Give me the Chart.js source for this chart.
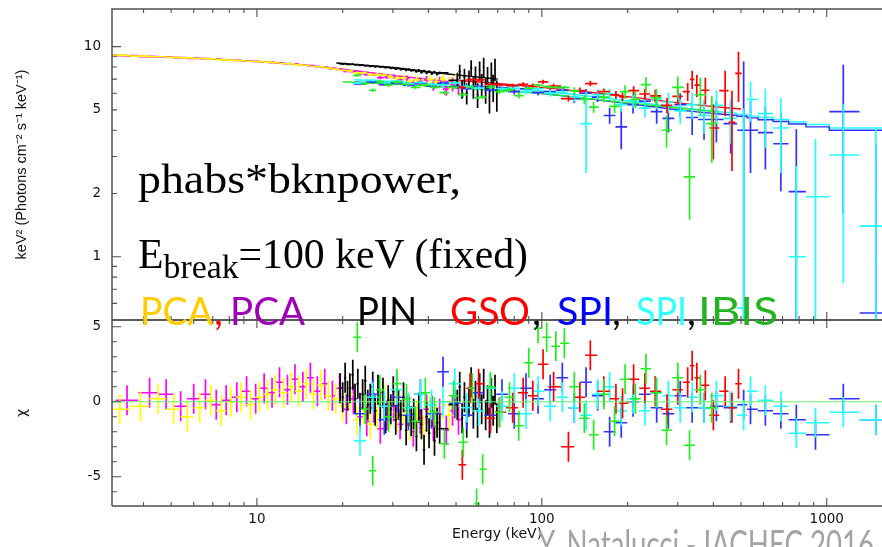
<!DOCTYPE html>
<html><head><meta charset="utf-8">
<script src="https://cdn.jsdelivr.net/npm/chart.js@4.4.0/dist/chart.umd.min.js"></script>
<style>
html,body{margin:0;padding:0;background:#fff;}
#wrap{position:relative;width:882px;height:547px;overflow:hidden;background:#fff;}
canvas{position:absolute;left:0;top:0;}
svg{position:absolute;left:0;top:0;}
</style></head><body>
<div id="wrap">
<canvas id="bot" width="882" height="547"></canvas>
<canvas id="top" width="882" height="547"></canvas>
<svg width="882" height="547">
  <text x="138" y="193" font-family="Liberation Serif" font-size="43" fill="#000" textLength="323" lengthAdjust="spacingAndGlyphs">phabs*bknpower,</text>
  <text x="138" y="268" font-family="Liberation Serif" font-size="42" fill="#000" textLength="390" lengthAdjust="spacingAndGlyphs">E<tspan font-size="34" dy="10">break</tspan><tspan dy="-10">=100 keV (fixed)</tspan></text>
  <g font-family="Lato" font-size="39">
    <text x="140" y="325" fill="#FFCC00" textLength="73" lengthAdjust="spacingAndGlyphs">PCA</text>
    <text x="214" y="325" fill="#FF0000">,</text>
    <text x="230" y="325" fill="#A000B8" textLength="75" lengthAdjust="spacingAndGlyphs">PCA</text>
    <text x="357" y="325" fill="#000" textLength="60" lengthAdjust="spacingAndGlyphs">PIN</text>
    <text x="450" y="325" fill="#FF0000" textLength="80" lengthAdjust="spacingAndGlyphs">GSO</text>
    <text x="532" y="325" fill="#000">,</text>
    <text x="557" y="325" fill="#0000FF" textLength="56" lengthAdjust="spacingAndGlyphs">SPI</text>
    <text x="612" y="325" fill="#000">,</text>
    <text x="636" y="325" fill="#33FFFF" textLength="51" lengthAdjust="spacingAndGlyphs">SPI</text>
    <text x="687" y="325" fill="#000">,</text>
    <text x="698" y="325" fill="#22B522" textLength="80" lengthAdjust="spacingAndGlyphs">IBIS</text>
  </g>
  <text x="538" y="558" font-family="Lato" font-size="39" fill="#A3A3A3" textLength="336" lengthAdjust="spacingAndGlyphs">Y. Natalucci - IACHEC 2016</text>
</svg>
</div>
<script>
// ---------- axes ----------
const xMin = 3.1, xMax = 1563;
const xMajorTicks = [10, 100, 1000];
const xMinorTicks = [4,5,6,7,8,9,20,30,40,50,60,70,80,90,200,300,400,500,600,700,800,900];
const topYMin = 0.5, topYMax = 15.1;
const topYLabels = [1, 2, 5, 10];
const topYMajor = [1, 10];
const topYMinor = [0.6,0.7,0.8,0.9,2,3,4,5,6,7,8,9];
const botYMin = -6.95, botYMax = 5.45;
const botYLabels = [-5, 0, 5];
const botYMajor = [-5, 0, 5];
const botYMinor = [-6,-4,-3,-2,-1,1,2,3,4];

// ---------- PCA (yellow) ----------
const pcaAE = [3.3,3.9,4.5,5.1,5.7,6.3,6.9,7.5,8.1,8.8,9.5,10.2,10.9,11.6,12.4,13.2,14.0,14.9,15.8,16.8,17.8,18.9,20.0,21.2,22.4,23.7,25.0,26.4,27.9,29.4,31.0,32.7,34.5,36.4,38.4,40.5,42.7,45.0,47.4,50.0];
const pcaAF = [9.08,9.01,8.95,8.89,8.83,8.78,8.74,8.68,8.63,8.58,8.52,8.48,8.43,8.39,8.31,8.27,8.18,8.14,8.04,8.0,7.9,7.82,7.71,7.67,7.5,7.5,7.35,7.36,7.32,7.2,7.06,7.1,6.84,6.95,6.72,6.98,6.8,6.98,6.7,6.85];
const pcaAS = [0.02,0.02,0.02,0.02,0.02,0.02,0.02,0.02,0.03,0.03,0.03,0.03,0.03,0.03,0.04,0.04,0.04,0.04,0.05,0.05,0.06,0.07,0.08,0.09,0.1,0.11,0.12,0.14,0.16,0.18,0.2,0.22,0.25,0.28,0.31,0.35,0.4,0.45,0.5,0.55];
const pcaAR = [-0.5,-0.3,0.2,-0.5,-1.0,-0.4,0.1,-0.6,0.0,0.3,-0.2,0.3,0.5,0.8,0.6,1.0,0.7,1.2,0.5,1.1,0.4,0.2,-0.3,0.5,-1.2,-0.5,-1.5,-0.8,0.3,-0.7,-1.1,-0.4,-1.6,-0.9,-1.9,-0.6,-1.3,-0.2,-0.9,-0.3];
// ---------- PCA (magenta) ----------
const pcaBE = [3.5,4.2,4.8,5.4,6.0,6.6,7.2,7.8,8.5,9.2,9.9,10.6,11.3,12.0,12.8,13.6,14.5,15.4,16.3,17.3,18.4,19.5,20.6,21.8,23.0,24.3,25.7,27.1,28.6,30.2,31.8,33.6,35.4,37.4,39.4,41.6,43.8,46.2,48.6,51.0];
const pcaBF = [9.05,8.97,8.92,8.86,8.8,8.76,8.71,8.66,8.6,8.56,8.5,8.46,8.41,8.37,8.31,8.26,8.18,8.12,8.03,7.96,7.86,7.78,7.63,7.6,7.44,7.36,7.36,7.12,7.18,7.2,6.94,7.06,6.7,6.85,6.94,6.52,6.78,6.28,6.62,6.42];
const pcaBS = [0.02,0.02,0.02,0.02,0.02,0.02,0.02,0.02,0.03,0.03,0.03,0.03,0.03,0.03,0.04,0.04,0.04,0.04,0.05,0.05,0.06,0.07,0.08,0.09,0.1,0.11,0.12,0.14,0.16,0.18,0.2,0.22,0.25,0.28,0.31,0.35,0.4,0.45,0.5,0.55];
const pcaBR = [0.1,0.6,0.5,-0.3,0.2,0.5,-0.2,0.1,0.3,0.7,0.2,0.9,0.6,1.3,0.8,1.5,1.0,1.6,0.7,1.2,0.4,0.9,-0.5,0.2,-1.0,-1.3,-0.4,-1.8,-0.9,-0.3,-1.5,-0.6,-2.0,-1.1,-0.5,-1.6,-0.8,-1.9,-0.6,-1.2];
const pcaModelE = [3,4,5,7,10,15,20,30,40,52];
const pcaModelF = [9.12,9.0,8.9,8.74,8.5,8.15,7.8,7.3,6.98,6.72];

// ---------- PIN (black) ----------
const pinE = [19.6,20.0,20.4,20.8,21.2,21.7,22.1,22.6,23.0,23.5,24.0,24.5,25.0,25.5,26.0,26.6,27.1,27.7,28.3,28.9,29.5,30.1,30.7,31.4,32.0,32.7,33.4,34.1,34.8,35.5,36.3,37.0,37.8,38.6,39.4,40.2,41.1,42.0,42.9,43.8,
              50.5,51.5,52.5,53.5,54.5,55.5,56.5,57.5,58.5,59.5,60.5,61.5,62.5,63.5,64.5,65.5,66.5,67.5,68.5,69.5];
const pinF = [8.3,8.26,8.3,8.24,8.22,8.26,8.18,8.2,8.14,8.17,8.1,8.12,8.06,8.1,8.02,8.05,7.98,8.02,7.94,7.97,7.9,7.93,7.84,7.88,7.8,7.84,7.74,7.78,7.7,7.72,7.62,7.7,7.55,7.64,7.5,7.6,7.45,7.55,7.4,7.5,
              6.9,7.6,6.3,7.2,6.0,7.0,7.9,6.4,7.3,5.9,7.7,6.6,8.0,6.2,7.1,5.7,7.5,6.4,7.8,5.9];
const pinS = [0.07,0.07,0.07,0.07,0.07,0.07,0.07,0.07,0.07,0.07,0.08,0.08,0.08,0.08,0.08,0.08,0.08,0.08,0.08,0.08,0.1,0.1,0.1,0.1,0.1,0.1,0.1,0.1,0.1,0.1,0.12,0.12,0.12,0.12,0.12,0.12,0.12,0.12,0.12,0.12,
              0.6,0.6,0.65,0.65,0.7,0.7,0.7,0.75,0.75,0.8,0.8,0.8,0.85,0.85,0.9,0.9,0.9,0.95,0.95,1.0];
const pinR = [0.9,0.3,1.6,0.4,0.9,1.8,0.2,1.2,-0.4,0.5,1.4,-0.2,0.2,1.0,-0.6,0.8,-0.3,0.6,-1.1,0.1,-0.5,0.7,-1.2,-0.2,-0.9,0.3,-1.9,-0.6,-1.3,-0.8,-2.3,-0.4,-1.5,-3.2,-1.0,-2.1,-0.6,-2.6,-1.4,-1.8,
              -0.2,1.0,-1.1,0.3,-1.4,0.0,1.3,-0.8,0.4,-1.4,0.9,-0.5,1.2,-0.9,0.1,-1.4,0.6,-0.6,0.8,-1.1];
const pinModelE = [19,30,45,70];
const pinModelF = [8.35,7.95,7.45,7.0];

// ---------- GSO (red) ----------
const gsoE = [52.6,56,60,66,71,79,86,93,101,110,124,136,148,165,182,192,210,230,250,275,300,325,337,350,375,400,440,465,490];
const gsoF = [6.4,6.96,6.94,6.59,6.57,6.52,6.61,6.52,6.8,6.49,5.66,6.18,6.67,6.1,5.9,5.77,6.17,5.95,5.83,5.25,5.8,6.11,6.98,6.55,6.2,4.1,6.17,4.36,7.45];
const gsoS = [0.12,0.12,0.12,0.13,0.13,0.14,0.15,0.15,0.16,0.17,0.18,0.2,0.2,0.22,0.25,0.28,0.3,0.35,0.4,0.45,0.5,0.6,0.7,0.8,0.9,1.2,1.5,1.8,2.0];
const gsoR = [-4.2,0.9,1.2,-1.1,-0.7,-0.4,0.6,0.4,2.5,1.0,-3.0,0.3,3.1,0.7,0.2,-0.1,1.5,0.9,0.7,-0.5,0.8,1.3,2.4,1.6,1.1,-0.9,0.7,-0.4,1.2];
const gsoModelE = [50,70,100,150,200,300,400,500];
const gsoModelF = [6.92,6.68,6.4,6.05,5.78,5.4,5.18,5.05];

// ---------- SPI (blue) and SPI (cyan) ----------
const spiE = [23,25.5,28,31,34,37.5,41,45,49.5,54.5,60,66,72.5,80,88,97,107,118,130,143,157,173,190,209,230,253,278,306,337,371,410,460,511,540,609,690,782,913,1143,1487];
const spiAF = [6.65,6.8,6.6,6.72,6.55,6.68,6.48,6.7,6.45,6.3,6.45,6.22,6.35,6.1,6.3,6.05,6.1,6.2,5.65,6.0,5.75,4.7,4.15,5.3,5.5,4.9,4.55,5.3,4.6,4.5,4.5,4.3,4.0,4.0,3.9,3.45,2.04,-1.5,4.9,0.54];
const spiAS = [0.1,0.1,0.1,0.11,0.11,0.12,0.12,0.13,0.13,0.14,0.15,0.16,0.17,0.18,0.19,0.2,0.22,0.24,0.26,0.28,0.3,0.4,0.9,0.5,0.55,0.6,0.65,0.7,0.8,0.9,1.0,1.2,4.5,1.5,1.3,1.4,2.0,1.8,3.3,2.9];
const spiAR = [-0.8,0.5,-1.2,0.3,-0.9,0.5,-0.8,2.0,-0.1,-0.9,0.6,-0.9,0.5,-0.8,0.9,0.2,0.8,1.6,-0.4,1.3,0.4,-2.0,-1.4,0.0,0.5,-0.4,-0.8,0.4,-0.4,-0.4,-0.3,-0.4,-0.2,-0.5,-0.6,-0.8,-1.2,-2.2,0.2,-1.2];
const spiBF = [6.7,6.9,6.75,6.85,6.65,6.75,6.6,6.58,6.72,6.45,6.35,6.55,6.3,6.45,6.1,6.3,6.0,6.05,5.75,4.3,5.9,5.95,5.3,5.55,5.1,5.6,5.45,4.95,5.3,4.7,5.25,4.55,0.57,5.6,4.8,4.1,1.0,1.93,3.05,1.4];
const spiBS = [0.1,0.1,0.11,0.11,0.12,0.12,0.13,0.13,0.14,0.15,0.16,0.17,0.18,0.19,0.2,0.22,0.23,0.26,0.28,1.8,0.32,0.35,0.4,0.45,0.5,0.55,0.6,0.65,0.75,0.85,0.95,1.1,4.5,1.2,1.5,1.6,1.7,1.7,2.3,2.7];
const spiBR = [-2.6,0.3,-0.3,0.8,-0.4,0.5,-0.2,0.0,1.2,-0.4,-0.6,0.9,-0.3,0.9,-0.8,0.7,-0.3,0.3,-0.4,-0.9,0.5,1.0,-0.6,0.2,-0.6,0.6,0.4,-0.4,0.3,-0.4,0.4,-0.3,-0.9,0.7,0.1,-0.3,-2.1,-1.4,-0.7,-1.2];
const spiModelE = [22,30,40,50,60,80,100,130,170,220,280,350,420,485];
const spiAModelF = [6.78,6.65,6.5,6.4,6.3,6.15,5.98,5.75,5.5,5.27,5.06,4.89,4.78,4.7];
const spiBModelF = [6.95,6.82,6.68,6.57,6.47,6.32,6.15,5.92,5.68,5.42,5.2,5.02,4.9,4.82];
const spiStepE = [485,525,574,648,735,845,1021,1304,1698];
const spiAStepF = [4.72,4.66,4.58,4.49,4.4,4.28,4.15,4.0,4.0];
const spiBStepF = [4.8,4.76,4.68,4.6,4.5,4.38,4.26,4.1,4.1];

// ---------- IBIS (green) ----------
const ibisE = [22.5,24,25.5,27,29,31,33.5,36,39,42,45.5,49,53,57,59,62,66,71,77,83,90,97,104,112,120,130,141,152,165,180,196,213,232,252,274,300,330,360,395];
const ibisF = [7.3,6.69,6.2,6.82,6.55,6.78,6.62,6.4,6.55,6.4,6.04,6.4,5.9,6.4,5.7,5.75,6.4,6.1,6.22,5.85,6.35,6.55,6.45,6.4,6.4,6.15,5.6,5.15,5.75,5.2,6.1,5.6,6.6,5.7,4.0,6.4,2.4,5.9,4.3];
const ibisS = [0.12,0.12,0.12,0.12,0.12,0.12,0.13,0.13,0.13,0.14,0.15,0.15,0.16,0.16,0.09,0.12,0.16,0.17,0.18,0.19,0.1,0.1,0.1,0.1,0.1,0.26,0.28,0.3,0.33,0.38,0.45,0.5,0.55,0.6,0.7,0.8,0.9,1.2,1.5];
const ibisR = [4.3,-0.5,-4.6,0.8,-1.0,1.2,0.2,-1.3,0.6,-0.7,-2.8,0.4,-2.7,0.9,-6.8,-4.5,1.0,-0.7,0.3,-1.6,2.6,4.9,4.3,3.7,3.9,1.0,-1.1,-2.2,0.5,-1.3,1.5,0.2,2.2,0.6,-1.9,1.6,-2.9,0.8,-0.4];
const ibisModelE = [20,30,50,100,200,300,420];
const ibisModelF = [6.8,6.65,6.38,6.0,5.4,5.1,4.88];

// ---------- colours ----------
const C = {pcaA:'#FFFF00', pcaB:'#FF00FF', pin:'#000000', gso:'#FF0000', spiA:'#3030FF', spiB:'#22FFFF', ibis:'#22EE22'};

// ---------- helpers (build library datasets from the arrays) ----------
function edges(E){const n=E.length,lo=[],hi=[];for(let i=0;i<n;i++){lo.push(i>0?Math.sqrt(E[i-1]*E[i]):E[0]*Math.sqrt(E[0]/E[1]));hi.push(i<n-1?Math.sqrt(E[i]*E[i+1]):E[n-1]*Math.sqrt(E[n-1]/E[n-2]));}return {lo,hi};}
function fluxBars(E,F,S){const e=edges(E);return E.map((x,i)=>({x,y:F[i],xl:e.lo[i],xh:e.hi[i],yl:F[i]-S[i],yh:F[i]+S[i]}));}
function chiBars(E,R){const e=edges(E);return E.map((x,i)=>({x,y:R[i],xl:e.lo[i],xh:e.hi[i],yl:R[i]-1,yh:R[i]+1}));}
function barSet(data,color){return {data,bars:true,borderColor:color,backgroundColor:color,pointRadius:0,showLine:false};}
function lineSet(E,F,color,stepped){return {data:E.map((x,i)=>({x,y:F[i]})),borderColor:color,borderWidth:1.4,pointRadius:0,showLine:true,stepped:stepped||false,fill:false};}

const errPlugin = {
  id:'errbars',
  afterDatasetsDraw(chart){
    const {ctx, chartArea:a} = chart; const xs = chart.scales.x, ys = chart.scales.y;
    ctx.save(); ctx.beginPath(); ctx.rect(a.left, a.top, chart.width - a.left, a.bottom - a.top); ctx.clip();
    const py = v => v <= ys.min ? a.bottom + 5 : (v >= ys.max ? a.top - 5 : ys.getPixelForValue(v));
    chart.data.datasets.forEach(ds => {
      if (!ds.bars) return;
      ctx.strokeStyle = ds.borderColor; ctx.lineWidth = 1.7; ctx.beginPath();
      ds.data.forEach(b => {
        const x0 = xs.getPixelForValue(b.xl), x1 = xs.getPixelForValue(b.xh), xc = xs.getPixelForValue(b.x);
        const y0 = py(b.yl), y1 = py(b.yh);
        ctx.moveTo(xc, y0); ctx.lineTo(xc, y1);
        if (b.y > ys.min && b.y < ys.max) { const yc = ys.getPixelForValue(b.y); ctx.moveTo(x0, yc); ctx.lineTo(x1, yc); }
      });
      ctx.stroke();
    });
    ctx.restore();
  }
};
const framePlugin = {
  id:'frame',
  afterDraw(chart, args, o){
    const {ctx, chartArea:a} = chart; const xs = chart.scales.x, ys = chart.scales.y;
    ctx.save();
    if (o.zeroLine) { const z = ys.getPixelForValue(0); ctx.strokeStyle = '#66EE66'; ctx.lineWidth = 1.2; ctx.beginPath(); ctx.moveTo(a.left, z); ctx.lineTo(chart.width, z); ctx.stroke(); }
    ctx.strokeStyle = '#505050'; ctx.lineWidth = 1.5; ctx.beginPath();
    ctx.moveTo(a.left, a.bottom); ctx.lineTo(a.left, a.top); ctx.lineTo(chart.width, a.top);
    ctx.moveTo(a.left, a.bottom); ctx.lineTo(chart.width, a.bottom);
    ctx.stroke();
    ctx.lineWidth = 1.1; ctx.beginPath();
    const tx = (vals, len) => vals.forEach(v => { const p = xs.getPixelForValue(v); ctx.moveTo(p, a.top); ctx.lineTo(p, a.top + len); ctx.moveTo(p, a.bottom); ctx.lineTo(p, a.bottom - len); });
    const ty = (vals, len) => vals.forEach(v => { const p = ys.getPixelForValue(v); ctx.moveTo(a.left, p); ctx.lineTo(a.left + len, p); });
    tx(xMajorTicks, 8); tx(xMinorTicks, 4); ty(o.yMajor, 9); ty(o.yMinor, 5);
    ctx.stroke(); ctx.restore();
  }
};
Chart.register(errPlugin, framePlugin);

const tickFont = {family:'DejaVu Sans', size:13.5};
function fixY(s){ s.width = 112; s.paddingTop = 0; s.paddingBottom = 0; }

// ---------- top panel ----------
new Chart(document.getElementById('top'), {
  type:'scatter',
  data:{datasets:[
    lineSet(pcaModelE, pcaModelF, C.pcaB), lineSet(pcaModelE, pcaModelF, C.pcaA),
    lineSet(pinModelE, pinModelF, C.pin),
    lineSet(ibisModelE, ibisModelF, C.ibis),
    lineSet(gsoModelE, gsoModelF, C.gso),
    lineSet(spiModelE, spiAModelF, C.spiA), lineSet(spiStepE, spiAStepF, C.spiA, 'after'),
    lineSet(spiModelE, spiBModelF, C.spiB), lineSet(spiStepE, spiBStepF, C.spiB, 'after'),
    barSet(fluxBars(pcaBE, pcaBF, pcaBS), C.pcaB),
    barSet(fluxBars(pcaAE, pcaAF, pcaAS), C.pcaA),
    barSet(fluxBars(pinE, pinF, pinS), C.pin),
    barSet(fluxBars(spiE, spiAF, spiAS), C.spiA),
    barSet(fluxBars(spiE, spiBF, spiBS), C.spiB),
    barSet(fluxBars(gsoE, gsoF, gsoS), C.gso),
    barSet(fluxBars(ibisE, ibisF, ibisS), C.ibis)
  ]},
  options:{
    responsive:false, animation:false, events:[],
    layout:{padding:{left:0,right:0,top:9,bottom:227}},
    plugins:{legend:{display:false}, tooltip:{enabled:false}, frame:{yMajor:topYMajor, yMinor:topYMinor}},
    scales:{
      x:{type:'logarithmic', min:xMin, max:xMax, display:false},
      y:{type:'logarithmic', min:topYMin, max:topYMax,
         afterBuildTicks(s){ s.ticks = topYLabels.map(v => ({value:v})); },
         afterFit: fixY,
         grid:{display:false, drawTicks:false}, border:{display:false},
         ticks:{callback:v => String(v), font:tickFont, color:'#111', padding:11, autoSkip:false},
         title:{display:true, text:'keV² (Photons cm⁻² s⁻¹ keV⁻¹)', font:{family:'Liberation Sans', size:14.5}, color:'#111', padding:{top:13,bottom:0}}}
    }
  }
});

// ---------- residual panel ----------
new Chart(document.getElementById('bot'), {
  type:'scatter',
  data:{datasets:[
    barSet(chiBars(pcaBE, pcaBR), C.pcaB),
    barSet(chiBars(pcaAE, pcaAR), C.pcaA),
    barSet(chiBars(pinE, pinR), C.pin),
    barSet(chiBars(spiE, spiAR), C.spiA),
    barSet(chiBars(spiE, spiBR), C.spiB),
    barSet(chiBars(gsoE, gsoR), C.gso),
    barSet(chiBars(ibisE, ibisR), C.ibis)
  ]},
  options:{
    responsive:false, animation:false, events:[],
    layout:{padding:{left:0,right:0,top:320,bottom:0}},
    plugins:{legend:{display:false}, tooltip:{enabled:false}, frame:{yMajor:botYMajor, yMinor:botYMinor, zeroLine:true}},
    scales:{
      x:{type:'logarithmic', min:xMin, max:xMax,
         afterBuildTicks(s){ s.ticks = xMajorTicks.map(v => ({value:v})); },
         afterFit(s){ s.height = 41; s.paddingLeft = 0; s.paddingRight = 0; },
         grid:{display:false, drawTicks:false}, border:{display:false},
         ticks:{callback:v => String(v), font:tickFont, color:'#111', padding:5, maxRotation:0, autoSkip:false},
         title:{display:true, text:'Energy (keV)', font:{family:'DejaVu Sans', size:14}, color:'#111', padding:{top:0,bottom:4}}},
      y:{type:'linear', min:botYMin, max:botYMax,
         afterBuildTicks(s){ s.ticks = botYLabels.map(v => ({value:v})); },
         afterFit: fixY,
         grid:{display:false, drawTicks:false}, border:{display:false},
         ticks:{callback:v => String(v), font:tickFont, color:'#111', padding:11, autoSkip:false},
         title:{display:true, text:'χ', font:{family:'DejaVu Sans', size:14}, color:'#111', padding:{top:14,bottom:0}}}
    }
  }
});
</script>
</body></html>
